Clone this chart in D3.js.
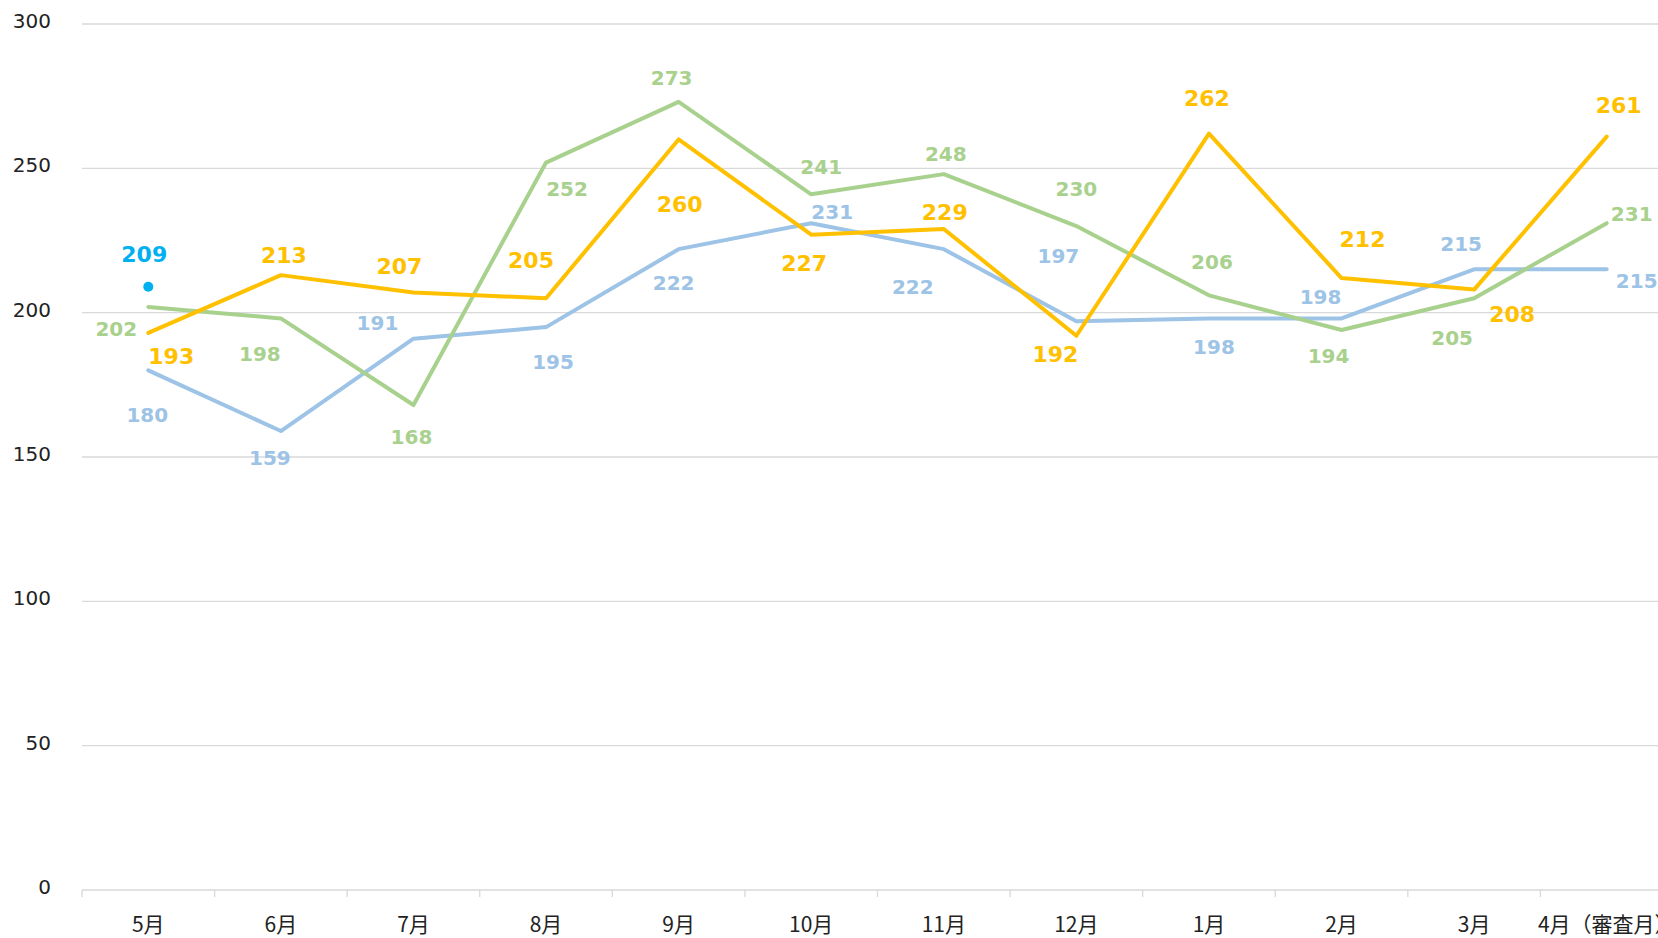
<!DOCTYPE html>
<html>
<head>
<meta charset="utf-8">
<script src="https://cdn.jsdelivr.net/npm/d3@7"></script>
<style>
  body { margin: 0; background: #fff; }
  svg { display: block; }
</style>
</head>
<body>
<svg id="svg1"></svg>
<script>
// data
const months = ['5月', '6月', '7月', '8月', '9月', '10月', '11月', '12月', '1月', '2月', '3月', '4月（審査月）'];
const blueValues = [180, 159, 191, 195, 222, 231, 222, 197, 198, 198, 215, 215];
const orangeValues = [193, 213, 207, 205, 260, 227, 229, 192, 262, 212, 208, 261];
const greenValues = [202, 198, 168, 252, 273, 241, 248, 230, 206, 194, 205, 231];
const highlightMonth = '5月';
const highlightValue = 209;
const yTicks = [0, 50, 100, 150, 200, 250, 300];

// label placement (offset of label centre from its point, px)
const blueLabelOffset = [[-1, 44], [-11, 27], [-36, -16], [7, 35], [-5, 34], [21, -11], [-31, 38], [-18, -66], [5, 28], [-21, -22], [-13, -26], [30, 11]];
const orangeLabelOffset = [[23, 23], [3, -20], [-14, -26], [-15, -38], [1, 65], [-7, 28], [1, -17], [-21, 18], [-2, -36], [21, -39], [38, 25], [12, -32]];
const greenLabelOffset = [[-32, 22], [-21, 35], [-2, 32], [21, 26], [-7, -24], [10, -28], [2, -20], [0, -37], [3, -34], [-13, 26], [-22, 40], [25, -9]];

// layout
const width = 1658;
const height = 938;
const plot = {left: 82, right: 1673, top: 24, bottom: 890};
const labelFont = '"DejaVu Sans", Verdana, sans-serif';

const svg = d3.select('#svg1')
    .attr('width', width)
    .attr('height', height);

const x = d3.scaleBand()
    .domain(months)
    .range([plot.left, plot.right]);

const y = d3.scaleLinear()
    .domain([0, 300])
    .range([plot.bottom, plot.top]);

const cx = d => x(d) + x.bandwidth() / 2;

// gridlines
svg.append('g')
    .selectAll('line')
    .data(yTicks)
    .enter()
    .append('line')
    .attr('x1', plot.left)
    .attr('x2', plot.right)
    .attr('y1', d => y(d))
    .attr('y2', d => y(d))
    .attr('stroke', '#d9d9d9')
    .attr('stroke-width', 1.3);

// y axis labels
const yAxis = svg.append('g')
    .attr('transform', 'translate(51,-3)')
    .call(d3.axisLeft(y).tickValues(yTicks).tickSize(0).tickPadding(0));
yAxis.select('.domain').remove();
yAxis.selectAll('text')
    .style('font-family', labelFont)
    .style('font-size', '20px')
    .attr('fill', '#222');

// x axis: ticks on band edges
const edges = months.map(m => x(m)).concat([plot.right]);
svg.append('g')
    .selectAll('line')
    .data(edges)
    .enter()
    .append('line')
    .attr('x1', d => d)
    .attr('x2', d => d)
    .attr('y1', plot.bottom)
    .attr('y2', plot.bottom + 7)
    .attr('stroke', '#d9d9d9')
    .attr('stroke-width', 1.3);

const xAxis = svg.append('g')
    .attr('transform', 'translate(0,' + plot.bottom + ')')
    .call(d3.axisBottom(x).tickSize(0).tickPadding(27));
xAxis.select('.domain').remove();
xAxis.selectAll('text')
    .style('font-family', '"Noto Sans CJK JP", "Noto Sans", sans-serif')
    .style('font-size', '21px')
    .attr('fill', '#222');

// series
const series = [
  {values: blueValues, color: '#9dc3e6', offsets: blueLabelOffset, size: 20},
  {values: greenValues, color: '#a9d18e', offsets: greenLabelOffset, size: 20},
  {values: orangeValues, color: '#ffc000', offsets: orangeLabelOffset, size: 22}
];

const line = d3.line()
    .x((d, i) => cx(months[i]))
    .y(d => y(d));

series.forEach(function(s) {
  svg.append('path')
      .datum(s.values)
      .attr('d', line)
      .attr('fill', 'none')
      .attr('stroke', s.color)
      .attr('stroke-width', 4)
      .attr('stroke-linejoin', 'round')
      .attr('stroke-linecap', 'round');
});

series.forEach(function(s) {
  svg.append('g')
      .selectAll('text')
      .data(s.values)
      .enter()
      .append('text')
      .attr('x', (d, i) => cx(months[i]) + s.offsets[i][0])
      .attr('y', (d, i) => y(d) + s.offsets[i][1])
      .attr('dy', '0.36em')
      .attr('text-anchor', 'middle')
      .attr('fill', s.color)
      .style('font-family', labelFont)
      .style('font-size', s.size + 'px')
      .style('font-weight', 'bold')
      .text(d => d);
});

// single highlighted point
svg.append('circle')
    .attr('cx', cx(highlightMonth))
    .attr('cy', y(highlightValue))
    .attr('r', 5)
    .attr('fill', '#00b0f0');
svg.append('text')
    .attr('x', cx(highlightMonth) - 4)
    .attr('y', y(highlightValue) - 33)
    .attr('dy', '0.36em')
    .attr('text-anchor', 'middle')
    .attr('fill', '#00b0f0')
    .style('font-family', labelFont)
    .style('font-size', '22px')
    .style('font-weight', 'bold')
    .text(highlightValue);
</script>
</body>
</html>
